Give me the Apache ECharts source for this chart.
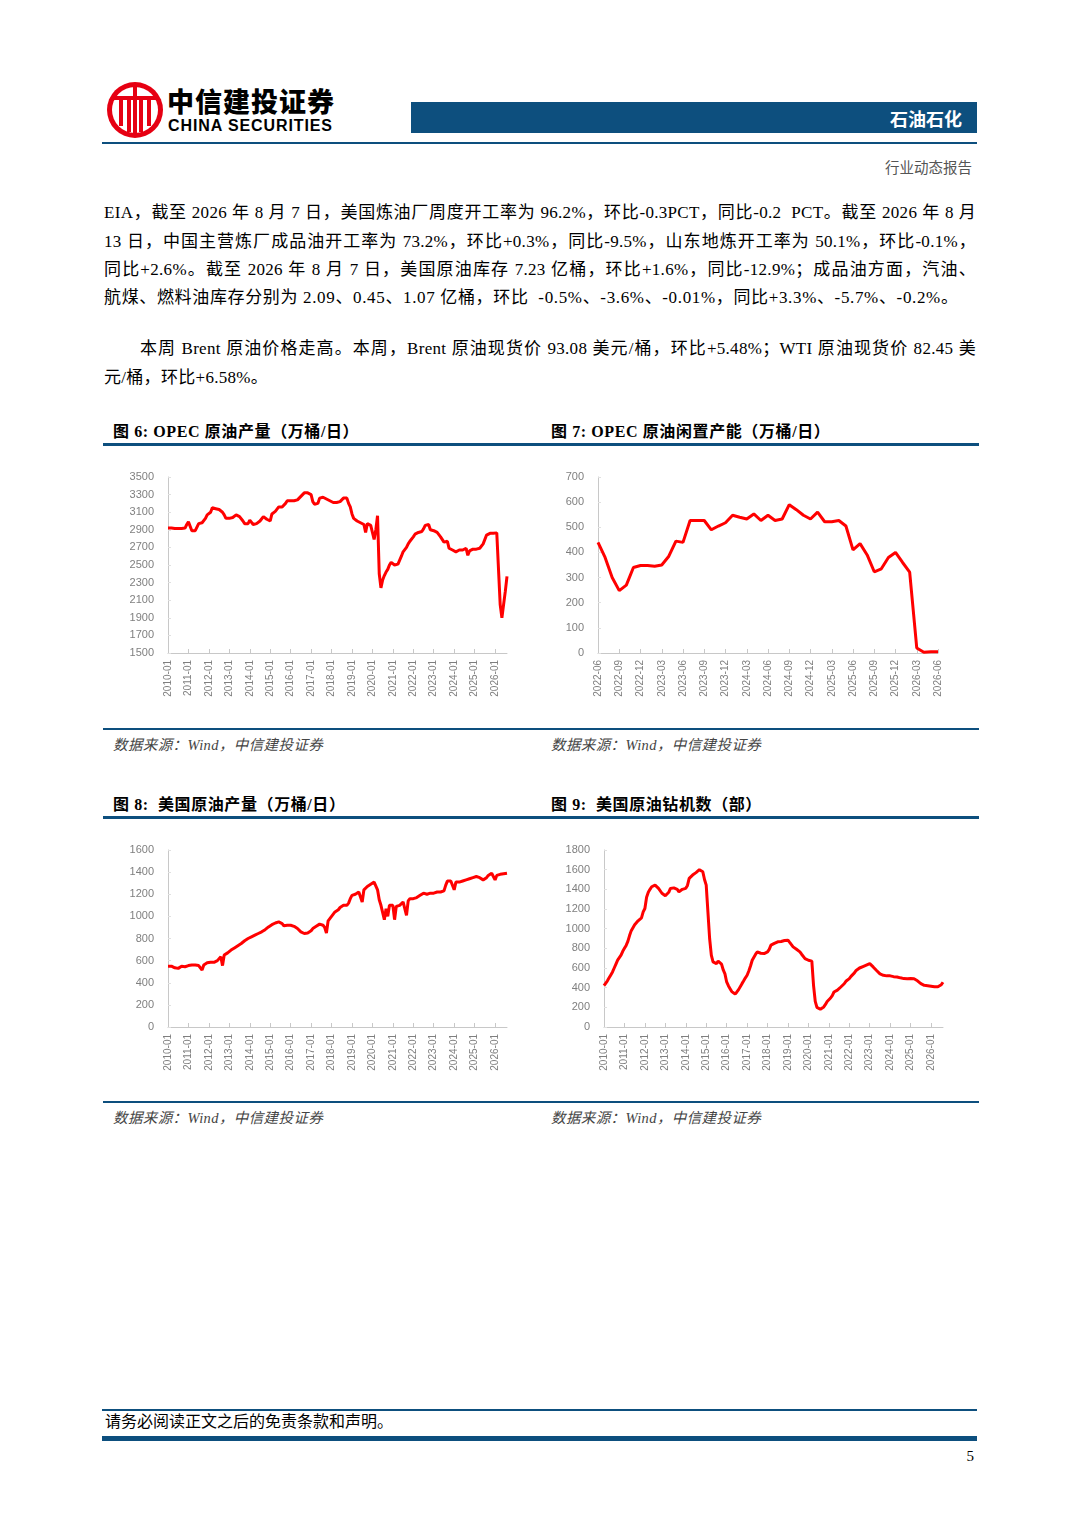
<!DOCTYPE html>
<html lang="zh" style="height: 100%">
<head>
  <meta charset="utf-8">
  <style>
    body { margin: 0; width: 1080px; height: 1528px; position: relative; background: #fff;
           font-family: "Liberation Serif", "Noto Sans CJK SC", serif; color: #000; }
    .abs { position: absolute; }
    .bar { position: absolute; background: #0d4f7e; }
    .line { position: absolute; left: 104px; width: 872px; font-size: 17px; letter-spacing: 0.3px; height: 22px; line-height: 22px;
            white-space: nowrap; text-align: justify; text-align-last: justify; }
    .line.last { text-align-last: left; width: auto; }
    .ttl { position: absolute; font-size: 16px; letter-spacing: 0.6px; font-weight: bold; white-space: nowrap; }
    .src { position: absolute; font-size: 14.5px; letter-spacing: 0.4px; font-style: italic; color: #444; white-space: nowrap; }
    .chart { position: absolute; }
  </style>
</head>
<body>
  <!-- header -->
  <svg class="abs" style="left:106px; top:81px" width="58" height="58" viewBox="0 0 58 58">
    <circle cx="29" cy="29" r="28" fill="#e60012"/>
    <circle cx="29" cy="29" r="23" fill="#fff"/>
    <rect x="8" y="15" width="42" height="4" fill="#e60012"/>
    <rect x="13" y="19" width="4" height="26" fill="#e60012"/>
    <rect x="41" y="19" width="4" height="26" fill="#e60012"/>
    <rect x="21" y="19" width="4" height="32" fill="#e60012"/>
    <rect x="33" y="19" width="4" height="32" fill="#e60012"/>
    <rect x="27" y="6" width="4" height="46" fill="#e60012"/>
  </svg>
  <div class="abs" style="left:167px; top:84px; font-family:'Noto Sans CJK SC'; font-weight:900; font-size:27px; letter-spacing:1px; line-height:34px;">中信建投证券</div>
  <div class="abs" style="left:168px; top:116px; font-family:'Liberation Sans'; font-weight:bold; font-size:16px; line-height:19px; letter-spacing:0.9px;">CHINA SECURITIES</div>
  <div class="bar" style="left:411px; top:102px; width:566px; height:31px;"></div>
  <div class="abs" style="left:800px; width:162px; top:106px; text-align:right; color:#fff; font-family:'Noto Sans CJK SC'; font-weight:bold; font-size:18px; line-height:24px;">石油石化</div>
  <div class="bar" style="left:102px; top:142px; width:875px; height:2px;"></div>
  <div class="abs" style="left:860px; width:112px; top:159px; text-align:right; color:#555; font-size:14.5px; line-height:18px;">行业动态报告</div>

  <!-- text -->
  <div class="line" style="top:202px;">EIA，截至 2026 年 8 月 7 日，美国炼油厂周度开工率为 96.2%，环比-0.3PCT，同比-0.2&nbsp; PCT。截至 2026 年 8 月</div>
  <div class="line" style="top:231px;">13 日，中国主营炼厂成品油开工率为 73.2%，环比+0.3%，同比-9.5%，山东地炼开工率为 50.1%，环比-0.1%，</div>
  <div class="line" style="top:259px;">同比+2.6%。截至 2026 年 8 月 7 日，美国原油库存 7.23 亿桶，环比+1.6%，同比-12.9%；成品油方面，汽油、</div>
  <div class="line last" style="top:287px; letter-spacing:0.65px;">航煤、燃料油库存分别为 2.09、0.45、1.07 亿桶，环比&nbsp; -0.5%、-3.6%、-0.01%，同比+3.3%、-5.7%、-0.2%。</div>
  <div class="line" style="top:338px; left:140px; width:836px;">本周 Brent 原油价格走高。本周，Brent 原油现货价 93.08 美元/桶，环比+5.48%；WTI 原油现货价 82.45 美</div>
  <div class="line last" style="top:367px;">元/桶，环比+6.58%。</div>

  <!-- figure row 1 -->
  <div class="ttl" style="left:113px; top:418px;">图 6: OPEC 原油产量（万桶/日）</div>
  <div class="ttl" style="left:551px; top:418px;">图 7: OPEC 原油闲置产能（万桶/日）</div>
  <div class="bar" style="left:103px; top:443px; width:876px; height:3px;"></div>
  <div id="c1" class="chart" style="left:103px; top:455px; width:437px; height:265px;"></div>
  <div id="c2" class="chart" style="left:545px; top:455px; width:434px; height:265px;"></div>
  <div class="bar" style="left:103px; top:728px; width:876px; height:2px;"></div>
  <div class="src" style="left:113px; top:733px;">数据来源：Wind，中信建投证券</div>
  <div class="src" style="left:551px; top:733px;">数据来源：Wind，中信建投证券</div>

  <!-- figure row 2 -->
  <div class="ttl" style="left:113px; top:791px;">图 8:&nbsp; 美国原油产量（万桶/日）</div>
  <div class="ttl" style="left:551px; top:791px;">图 9:&nbsp; 美国原油钻机数（部）</div>
  <div class="bar" style="left:103px; top:816px; width:876px; height:3px;"></div>
  <div id="c3" class="chart" style="left:103px; top:828px; width:437px; height:265px;"></div>
  <div id="c4" class="chart" style="left:545px; top:828px; width:434px; height:265px;"></div>
  <div class="bar" style="left:103px; top:1101px; width:876px; height:2px;"></div>
  <div class="src" style="left:113px; top:1106px;">数据来源：Wind，中信建投证券</div>
  <div class="src" style="left:551px; top:1106px;">数据来源：Wind，中信建投证券</div>

  <!-- footer -->
  <div class="bar" style="left:102px; top:1409px; width:875px; height:2px;"></div>
  <div class="abs" style="left:105px; top:1411px; font-size:16px; line-height:21px;">请务必阅读正文之后的免责条款和声明。</div>
  <div class="bar" style="left:102px; top:1436px; width:875px; height:5px;"></div>
  <div class="abs" style="left:960px; width:14px; top:1446px; text-align:right; font-size:15px; line-height:20px;">5</div>

  <script type="text/javascript" src="https://cdn.jsdelivr.net/npm/echarts@6/dist/echarts.min.js"></script>
  <script type="text/javascript">
    // OPEC crude output, monthly 2010-01 .. 2026-08 (万桶/日)
    var opecOutput = [
      2920,2925,2920,2915,2915,2915,2915,2915,2915,2915,2920,2960,
      2990,2980,2890,2885,2890,2900,2970,2990,2980,2990,3030,3070,
      3080,3100,3150,3160,3140,3130,3130,3110,3100,3070,3030,3030,
      3030,3030,3040,3060,3070,3060,3050,3030,3000,2970,2950,2970,
      3010,3020,2960,2960,2970,2980,3000,3020,3050,3030,3020,3010,
      3000,3080,3100,3110,3130,3160,3150,3160,3170,3200,3230,3230,
      3230,3220,3230,3230,3240,3260,3280,3300,3320,3330,3320,3310,
      3300,3220,3190,3180,3200,3260,3280,3270,3260,3250,3240,3230,
      3220,3210,3200,3210,3220,3220,3240,3260,3280,3260,3200,3160,
      3080,3030,3010,3000,2990,2980,2970,2960,2870,2970,2960,2950,
      2950,2790,2900,3060,2400,2240,2330,2380,2420,2450,2500,2530,
      2540,2500,2490,2510,2530,2600,2650,2670,2700,2740,2770,2790,
      2820,2850,2850,2870,2860,2880,2910,2950,2970,2960,2900,2890,
      2890,2880,2870,2860,2820,2800,2760,2740,2770,2690,2680,2670,
      2670,2650,2660,2670,2670,2670,2670,2690,2610,2660,2680,2680,
      2680,2680,2690,2690,2710,2740,2760,2840,2850,2860,2860,2860,
      2860,2865,2870,2050,1900,1900,2200,2370
    ];
    // OPEC spare capacity, monthly 2022-06 .. 2026-06 (万桶/日)
    var opecSpare = [
      440,380,300,248,270,340,348,
      348,345,350,385,445,440,527,527,527,490,505,518,
      548,540,533,553,527,548,527,533,590,570,548,533,
      560,522,522,527,505,410,435,390,323,335,380,400,
      360,322,20,3,5,5
    ];
    // US crude output, monthly 2010-01 .. 2026-08 (万桶/日)
    var usOutput = [
      550,545,550,540,535,545,530,545,550,550,545,550,
      555,560,560,555,560,560,555,545,515,560,570,580,
      590,585,590,585,590,600,610,635,555,650,660,670,
      680,695,705,715,725,735,745,755,770,780,790,800,
      810,815,820,830,835,845,850,860,870,880,895,905,
      915,925,935,940,945,950,950,935,915,920,920,920,
      920,915,910,905,890,875,860,850,845,845,850,860,
      870,890,900,910,920,930,940,920,900,850,960,980,
      990,1020,1040,1050,1060,1080,1090,1100,1100,1100,1120,1160,
      1190,1200,1200,1210,1220,1230,1130,1240,1250,1270,1280,1290,
      1300,1310,1310,1240,1150,1100,1100,970,1070,1000,1100,1100,
      1100,970,1090,1100,1100,1110,1130,1140,1010,1140,1160,1170,
      1160,1160,1170,1180,1190,1200,1210,1210,1200,1200,1210,1200,
      1210,1210,1220,1220,1220,1220,1230,1280,1320,1320,1320,1320,
      1240,1310,1310,1310,1310,1320,1330,1330,1340,1340,1350,1350,
      1360,1360,1360,1350,1340,1330,1340,1350,1370,1380,1390,1380,
      1330,1370,1370,1380,1380,1385,1390,1390
    ];
    // US oil rig count, monthly 2010-01 .. 2026-08 (部)
    var usRigs = [
      420,440,470,500,530,560,600,640,680,700,730,770,
      800,830,870,930,980,1010,1040,1060,1080,1090,1110,1170,
      1205,1320,1370,1400,1426,1435,1443,1430,1410,1392,1360,1341,
      1335,1341,1370,1409,1412,1415,1416,1400,1375,1385,1400,1409,
      1410,1440,1511,1530,1545,1562,1570,1585,1600,1613,1579,1500,
      1443,1171,900,730,662,650,645,670,679,640,580,540,
      458,420,390,360,340,335,356,380,400,441,470,500,
      526,570,620,679,710,740,764,764,750,747,747,764,
      764,790,832,840,850,860,866,870,870,875,880,883,
      883,860,840,815,800,790,780,764,740,720,696,685,
      679,679,670,424,260,200,187,180,185,204,230,260,
      272,295,320,356,365,375,390,407,420,440,465,480,
      492,515,535,550,575,594,600,610,615,628,630,635,
      645,630,611,595,575,560,540,530,526,520,520,520,
      520,515,512,510,509,505,500,495,492,490,490,490,
      492,490,490,485,470,450,441,430,424,420,420,415,
      415,412,410,410,410,415,430,455
    ];

    function months(y, m, n) {
      var out = [];
      for (var i = 0; i < n; i++) {
        out.push(y + '-' + (m < 10 ? '0' + m : m));
        m++;
        if (m > 12) { m = 1; y++; }
      }
      return out;
    }

    function makeOption(cats, vals, yMin, yMax, yStep, step, grid) {
      var pick = function (i) { return i % step === 0; };
      return {
        animation: false,
        grid: grid,
        xAxis: {
          type: 'category',
          data: cats,
          boundaryGap: false,
          axisLine: { lineStyle: { color: '#c8c8c8', width: 1 } },
          axisTick: { show: true, inside: true, length: 4, interval: pick, lineStyle: { color: '#c8c8c8' } },
          axisLabel: { interval: pick, rotate: 90, color: '#7f7f7f', fontSize: 10,
                       fontFamily: 'Liberation Sans', margin: 7 }
        },
        yAxis: {
          type: 'value',
          min: yMin, max: yMax, interval: yStep,
          splitLine: { show: false },
          axisLine: { show: true, lineStyle: { color: '#c8c8c8', width: 1 } },
          axisTick: { show: true, inside: true, length: 3, lineStyle: { color: '#e0e0e0' } },
          axisLabel: { color: '#7f7f7f', fontSize: 11, fontFamily: 'Liberation Sans', margin: 14,
                       formatter: function (v) { return String(v); } }
        },
        series: [{
          type: 'line',
          data: vals,
          showSymbol: false,
          lineStyle: { color: '#ff0000', width: 3 },
          itemStyle: { color: '#ff0000' }
        }]
      };
    }

    var c1 = echarts.init(document.getElementById('c1'), null, { renderer: 'canvas' });
    c1.setOption(makeOption(months(2010, 1, opecOutput.length), opecOutput, 1500, 3500, 200, 12,
      { left: 65, top: 22, width: 339, height: 176 }));

    var c2 = echarts.init(document.getElementById('c2'), null, { renderer: 'canvas' });
    c2.setOption(makeOption(months(2022, 6, opecSpare.length), opecSpare, 0, 700, 100, 3,
      { left: 53, top: 22, width: 340, height: 176 }));

    var c3 = echarts.init(document.getElementById('c3'), null, { renderer: 'canvas' });
    c3.setOption(makeOption(months(2010, 1, usOutput.length), usOutput, 0, 1600, 200, 12,
      { left: 65, top: 22, width: 339, height: 177 }));

    var c4 = echarts.init(document.getElementById('c4'), null, { renderer: 'canvas' });
    c4.setOption(makeOption(months(2010, 1, usRigs.length), usRigs, 0, 1800, 200, 12,
      { left: 59, top: 22, width: 339, height: 177 }));

    window.addEventListener('resize', function () {
      c1.resize(); c2.resize(); c3.resize(); c4.resize();
    });
  </script>
</body>
</html>
